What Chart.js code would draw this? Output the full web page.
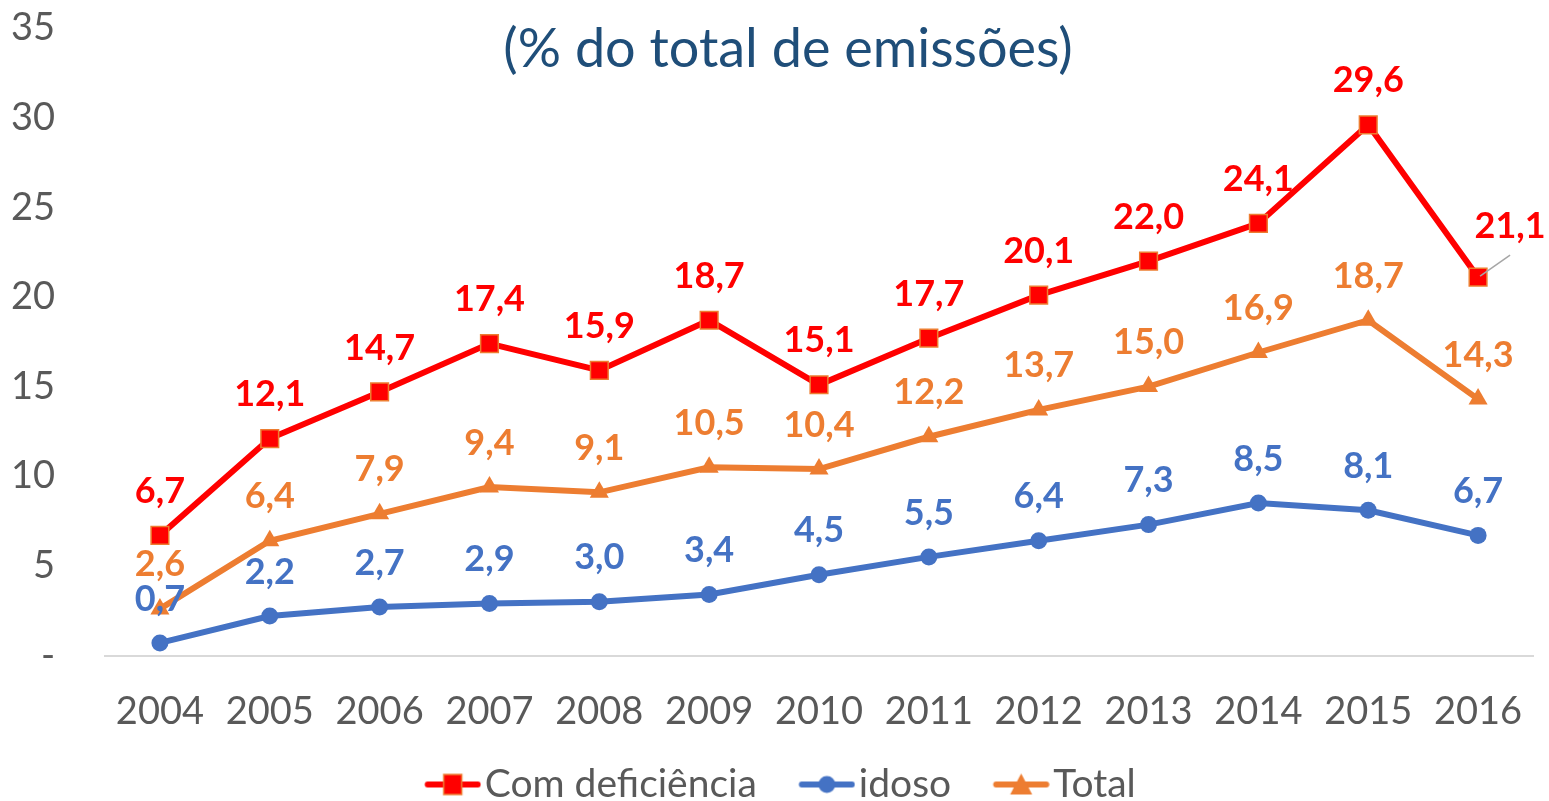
<!DOCTYPE html>
<html>
<head>
<meta charset="utf-8">
<script src="https://cdn.jsdelivr.net/npm/chart.js@4.4.0/dist/chart.umd.min.js"></script>
<style>
  html, body { margin: 0; padding: 0; background: #fff; }
  #chart { display: block; }
</style>
</head>
<body>
<canvas id="chart" width="1549" height="801"></canvas>
<script>
// Data
const years = ["2004", "2005", "2006", "2007", "2008", "2009", "2010", "2011", "2012", "2013", "2014", "2015", "2016"]
const comDeficiencia = [6.7, 12.1, 14.7, 17.4, 15.9, 18.7, 15.1, 17.7, 20.1, 22.0, 24.1, 29.6, 21.1]
const idoso = [0.7, 2.2, 2.7, 2.9, 3.0, 3.4, 4.5, 5.5, 6.4, 7.3, 8.5, 8.1, 6.7]
const total = [2.6, 6.4, 7.9, 9.4, 9.1, 10.5, 10.4, 12.2, 13.7, 15.0, 16.9, 18.7, 14.3]
const seriesNames = ["Com deficiência", "idoso", "Total"]
const titleText = "(% do total de emissões)"

const RED = "#FF0000"
const BLUE = "#4472C4"
const ORANGE = "#ED7D31"
const GREY = "#595959"
const FONT = "Lato"

// label moved off its point (dataset index -> point index -> [dx, dy])
const labelShift = { 0: { 12: [32, -7] } }

function fmt(v) {
  return v.toFixed(1).replace(".", ",")
}

// legend symbol: line + marker, drawn right of centre so it sits close to the text
function legendIcon(color, shape) {
  const c = document.createElement("canvas")
  c.width = 84
  c.height = 26
  const ctx = c.getContext("2d")
  const cx = 55.5
  ctx.strokeStyle = color
  ctx.lineWidth = 6
  ctx.lineCap = "round"
  ctx.beginPath()
  ctx.moveTo(30.5, 13)
  ctx.lineTo(80.5, 13)
  ctx.stroke()
  ctx.fillStyle = color
  if (shape === "rect") {
    ctx.fillRect(cx - 9, 3, 18, 20)
    ctx.strokeStyle = ORANGE
    ctx.lineWidth = 1.5
    ctx.strokeRect(cx - 9, 3, 18, 20)
  } else if (shape === "circle") {
    ctx.beginPath()
    ctx.arc(cx, 13, 8.5, 0, Math.PI * 2)
    ctx.fill()
  } else {
    ctx.beginPath()
    ctx.moveTo(cx, 2)
    ctx.lineTo(cx + 11, 23)
    ctx.lineTo(cx - 11, 23)
    ctx.closePath()
    ctx.fill()
  }
  return c
}

const legendIcons = [legendIcon(RED, "rect"), legendIcon(BLUE, "circle"), legendIcon(ORANGE, "triangle")]

const pointLabels = {
  id: "pointLabels",
  afterDatasetsDraw(chart) {
    const ctx = chart.ctx
    ctx.save()
    ctx.font = "bold 36px " + FONT
    ctx.textAlign = "center"
    ctx.textBaseline = "middle"
    chart.data.datasets.forEach((ds, di) => {
      const meta = chart.getDatasetMeta(di)
      meta.data.forEach((pt, i) => {
        let x = pt.x
        let y = pt.y - 44
        const shift = labelShift[di] && labelShift[di][i]
        if (shift) {
          x += shift[0]
          y += shift[1]
          ctx.strokeStyle = "#A6A6A6"
          ctx.lineWidth = 1.5
          ctx.beginPath()
          ctx.moveTo(pt.x + 2, pt.y - 1)
          ctx.lineTo(x, y + 29)
          ctx.stroke()
        }
        ctx.fillStyle = ds.borderColor
        ctx.fillText(fmt(ds.data[i]), x, y)
      })
    })
    ctx.restore()
  },
}

const chartTitle = {
  id: "chartTitle",
  afterDraw(chart) {
    const ctx = chart.ctx
    ctx.save()
    ctx.font = "54px " + FONT
    ctx.fillStyle = "#1F4E79"
    ctx.textAlign = "center"
    ctx.textBaseline = "middle"
    ctx.fillText(titleText, 788, 50)
    ctx.restore()
  },
}

// the legend sits a little right of the canvas centre in the reference
const legendNudge = {
  id: "legendNudge",
  afterLayout(chart) {
    chart.legend.left += 8
    chart.legend.right += 8
  },
}

function createChart() {
  const ctx = document.getElementById("chart").getContext("2d")

  new Chart(ctx, {
    type: "line",
    data: {
      labels: years,
      datasets: [
        {
          label: seriesNames[0],
          data: comDeficiencia,
          borderColor: RED,
          backgroundColor: RED,
          borderWidth: 6,
          pointStyle: "rect",
          pointRadius: 12.5,
          pointBorderColor: ORANGE,
          pointBorderWidth: 1.5,
          pointBackgroundColor: RED,
        },
        {
          label: seriesNames[1],
          data: idoso,
          borderColor: BLUE,
          backgroundColor: BLUE,
          borderWidth: 6,
          pointStyle: "circle",
          pointRadius: 8.5,
          pointBorderWidth: 0,
          pointBackgroundColor: BLUE,
        },
        {
          label: seriesNames[2],
          data: total,
          borderColor: ORANGE,
          backgroundColor: ORANGE,
          borderWidth: 6,
          pointStyle: "triangle",
          pointRadius: 11,
          pointBorderWidth: 0,
          pointBackgroundColor: ORANGE,
        },
      ],
    },
    options: {
      responsive: false,
      animation: false,
      layout: {
        padding: { top: 28, right: 16, bottom: -13, left: 0 },
      },
      plugins: {
        tooltip: { enabled: false },
        title: { display: false },
        legend: {
          position: "bottom",
          labels: {
            usePointStyle: true,
            pointStyleWidth: 52,
            padding: 30.5,
            color: GREY,
            font: { family: FONT, size: 39 },
            generateLabels(chart) {
              const items = Chart.defaults.plugins.legend.labels.generateLabels(chart)
              items.forEach((item, i) => {
                item.pointStyle = legendIcons[i]
              })
              return items
            },
          },
        },
      },
      scales: {
        x: {
          offset: true,
          grid: { display: false, drawTicks: false },
          border: { display: true, color: "#D9D9D9", width: 2 },
          ticks: {
            color: GREY,
            padding: 33,
            font: { family: FONT, size: 38 },
            maxRotation: 0,
          },
          afterFit(scale) {
            scale.height = 79
            scale.paddingLeft = 0
            scale.paddingRight = 0
          },
        },
        y: {
          min: 0,
          max: 35,
          grid: { display: false, drawTicks: false },
          border: { display: false },
          ticks: {
            stepSize: 5,
            color: GREY,
            padding: 50,
            font: { family: FONT, size: 38 },
            callback: (value) => (value === 0 ? "-" : value),
          },
          afterFit(scale) {
            scale.width = 105
            scale.paddingTop = 0
            scale.paddingBottom = 0
          },
        },
      },
    },
    plugins: [pointLabels, chartTitle, legendNudge],
  })
}

createChart()
</script>
</body>
</html>
